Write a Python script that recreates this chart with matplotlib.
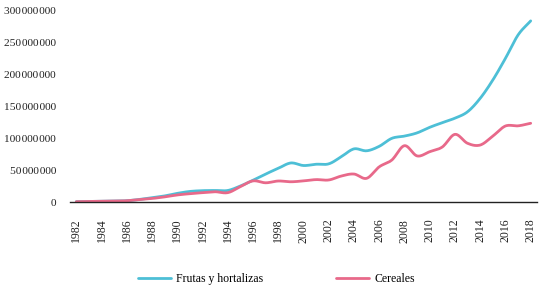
import matplotlib
matplotlib.use("Agg")
import matplotlib.pyplot as plt
import numpy as np
from matplotlib.ticker import FuncFormatter

years = list(range(1982, 2019))
frutas = [0.5, 0.8, 1.0, 1.3, 2.0, 4.0, 6.8, 9.5, 13.5, 16.5, 17.7, 18.0, 18.0,
          25.0, 34.0, 43.7, 52.6, 61.0, 57.0, 59.0, 59.6, 70.8, 83.0, 80.0,
          87.0, 99.5, 103.0, 108.0, 116.7, 124.0, 131.0, 141.0, 162.0, 190.6,
          224.5, 261.0, 283.0]
cereales = [0.5, 0.8, 1.0, 1.3, 2.0, 3.8, 5.5, 8.0, 11.0, 13.0, 14.6, 16.0, 14.6,
            24.0, 33.0, 30.0, 32.8, 31.6, 33.0, 35.0, 34.4, 40.6, 43.7, 37.0,
            55.0, 65.6, 88.0, 72.0, 78.6, 86.0, 105.7, 91.7, 89.0, 103.0,
            118.75, 119.0, 123.0]
series_names = ["Frutas y hortalizas", "Cereales"]
colors = ["#4dbfd6", "#e8698a"]


def smooth(x, y, n=12):
    # Catmull-Rom curve through the points, like a "smoothed line" chart
    x = np.asarray(x, float)
    y = np.asarray(y, float)
    px = np.concatenate([[2 * x[0] - x[1]], x, [2 * x[-1] - x[-2]]])
    py = np.concatenate([[2 * y[0] - y[1]], y, [2 * y[-1] - y[-2]]])
    t = np.linspace(0, 1, n, endpoint=False)
    xs, ys = [], []
    for i in range(1, len(px) - 2):
        for p, out in ((px, xs), (py, ys)):
            p0, p1, p2, p3 = p[i - 1], p[i], p[i + 1], p[i + 2]
            out.extend(0.5 * (2 * p1 + (-p0 + p2) * t
                              + (2 * p0 - 5 * p1 + 4 * p2 - p3) * t ** 2
                              + (-p0 + 3 * p1 - 3 * p2 + p3) * t ** 3))
    xs.append(x[-1])
    ys.append(y[-1])
    return np.array(xs), np.array(ys)


plt.rcParams["font.family"] = ["Liberation Serif", "DejaVu Serif"]

fig = plt.figure(figsize=(5.42, 2.86), dpi=100)
ax = fig.add_axes([70 / 542, 1 - 202 / 286, 467 / 542, 192 / 286])

for vals, name, c in zip([frutas, cereales], series_names, colors):
    sx, sy = smooth(years, np.array(vals) * 1e6)
    ax.plot(sx, sy, color=c, lw=2.0, label=name, solid_capstyle="round")

ax.set_xlim(1981.5, 2018.5)
ax.set_ylim(0, 300e6)
ax.set_xticks(years[::2])
ax.set_xticklabels([str(y) for y in years[::2]], rotation=90)
ax.set_yticks(np.arange(0, 300e6 + 1, 50e6))
ax.yaxis.set_major_formatter(FuncFormatter(
    lambda v, _: f"{int(v):,}".replace(",", "\u200a")))

for side in ["top", "right", "left"]:
    ax.spines[side].set_visible(False)
ax.spines["bottom"].set_color("#222222")
ax.spines["bottom"].set_linewidth(1.0)
ax.tick_params(axis="both", length=0, colors="#222222")
ax.tick_params(axis="y", pad=10, labelsize=8.2)
ax.tick_params(axis="x", pad=12, labelsize=8.5)

fig.legend(loc="center", bbox_to_anchor=(0.51, 1 - 279 / 286), ncol=2,
           frameon=False, fontsize=8.5, handlelength=2.8, handletextpad=0.4,
           columnspacing=6.2)

fig.savefig("out.png", dpi=100)
